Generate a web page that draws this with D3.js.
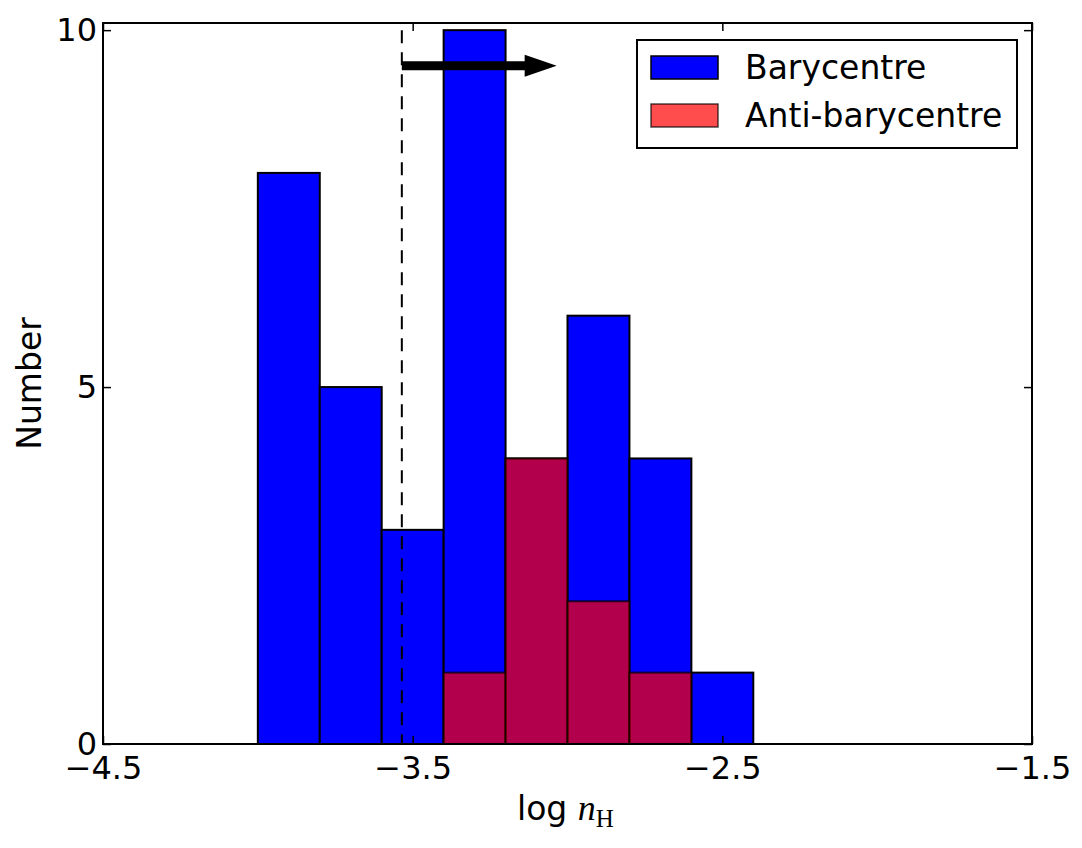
<!DOCTYPE html>
<html>
<head>
<meta charset="utf-8">
<script src="https://cdn.jsdelivr.net/npm/d3@7"></script>
<style>
  html, body { margin: 0; padding: 0; background: #fff; }
  svg { display: block; }
  text { font-family: "DejaVu Sans", sans-serif; fill: #000; }
</style>
</head>
<body>
<svg id="chart" width="1082" height="848"></svg>
<script>
// ---- data ----
const binEdges = [-4.0, -3.8, -3.6, -3.4, -3.2, -3.0, -2.8, -2.6, -2.4];
const baryCounts = [8, 5, 3, 10, 4, 6, 4, 1];
const antiCounts = [0, 0, 0, 1, 4, 2, 1, 0];
const xTicks = [-4.5, -3.5, -2.5, -1.5];
const yTicks = [0, 5, 10];
const thresholdX = -3.535;
const arrowFrom = [-3.535, 9.5];
const arrowTo = [-3.035, 9.5];
const seriesNames = ["Barycentre", "Anti-barycentre"];

// ---- layout ----
const svg = d3.select("#chart");
const L = 103, R = 1032, T = 23, B = 744;
const x = d3.scaleLinear().domain([-4.5, -1.5]).range([L, R]);
const y = d3.scaleLinear().domain([0, 10.1]).range([B, T]);

const blue = "#0000ff";
const red = "rgba(255,0,0,0.7)";
const redEdge = "rgba(0,0,0,0.7)";

const bins = baryCounts.map((c, i) => ({x0: binEdges[i], x1: binEdges[i+1], b: c, a: antiCounts[i]}));

// barycentre bars
svg.append("g").selectAll("rect").data(bins.filter(d => d.b > 0)).join("rect")
  .attr("x", d => x(d.x0)).attr("width", d => x(d.x1) - x(d.x0))
  .attr("y", d => y(d.b)).attr("height", d => y(0) - y(d.b))
  .attr("fill", blue).attr("stroke", "#000").attr("stroke-width", 2);

// anti-barycentre bars
svg.append("g").selectAll("rect").data(bins.filter(d => d.a > 0)).join("rect")
  .attr("x", d => x(d.x0)).attr("width", d => x(d.x1) - x(d.x0))
  .attr("y", d => y(d.a)).attr("height", d => y(0) - y(d.a))
  .attr("fill", red).attr("stroke", redEdge).attr("stroke-width", 2);

// dashed threshold line
svg.append("line")
  .attr("x1", x(thresholdX)).attr("x2", x(thresholdX))
  .attr("y1", y(10)).attr("y2", y(0))
  .attr("stroke", "#000").attr("stroke-width", 2).attr("stroke-dasharray", "13,9");

// arrow
const ax0 = x(arrowFrom[0]), ay = y(arrowFrom[1]), ax1 = x(arrowTo[0]);
const headL = 32, headH = 22, shaftW = 9;
svg.append("path")
  .attr("d", `M${ax0},${ay - shaftW/2} L${ax1 - headL},${ay - shaftW/2} L${ax1 - headL},${ay - headH/2} L${ax1},${ay} L${ax1 - headL},${ay + headH/2} L${ax1 - headL},${ay + shaftW/2} L${ax0},${ay + shaftW/2} Z`)
  .attr("fill", "#000");

// frame
svg.append("rect").attr("x", L).attr("y", T).attr("width", R - L).attr("height", B - T)
  .attr("fill", "none").attr("stroke", "#000").attr("stroke-width", 2);

// axes with inward ticks
const tickLen = 8;
const gx = svg.append("g").attr("transform", `translate(0,${B})`)
  .call(d3.axisBottom(x).tickValues(xTicks).tickSizeInner(-tickLen).tickSizeOuter(0).tickPadding(12)
    .tickFormat(d => d3.format(".1f")(d).replace("-", "\u2212")));
const gxTop = svg.append("g").attr("transform", `translate(0,${T})`)
  .call(d3.axisTop(x).tickValues(xTicks).tickSizeInner(-tickLen).tickSizeOuter(0).tickFormat(""));
const gy = svg.append("g").attr("transform", `translate(${L},0)`)
  .call(d3.axisLeft(y).tickValues(yTicks).tickSizeInner(-tickLen).tickSizeOuter(0).tickPadding(6)
    .tickFormat(d3.format("d")));
const gyR = svg.append("g").attr("transform", `translate(${R},0)`)
  .call(d3.axisRight(y).tickValues(yTicks).tickSizeInner(-tickLen).tickSizeOuter(0).tickFormat(""));
[gx, gxTop, gy, gyR].forEach(g => {
  g.select(".domain").remove();
  g.selectAll(".tick line").attr("stroke", "#000").attr("stroke-width", 1.5);
  g.selectAll(".tick text").attr("font-size", 32).attr("font-family", "DejaVu Sans").attr("fill", "#000");
});

// axis labels
svg.append("text").attr("transform", `translate(41,${(T + B) / 2}) rotate(-90)`)
  .attr("text-anchor", "middle").attr("font-size", 33).text("Number");

const xl = svg.append("text").attr("x", 517).attr("y", 820).attr("font-size", 33);
xl.append("tspan").text("log ");
xl.append("tspan").attr("font-family", "Liberation Serif, serif").attr("font-style", "italic").attr("font-size", 36).text("n");
xl.append("tspan").attr("font-family", "Liberation Serif, serif").attr("font-size", 25).attr("dy", 7).text("H");

// legend
const lg = svg.append("g");
lg.append("rect").attr("x", 637).attr("y", 40).attr("width", 380).attr("height", 108)
  .attr("fill", "#fff").attr("stroke", "#000").attr("stroke-width", 2);
const legendItems = [
  {name: seriesNames[0], fill: blue, stroke: "#000", y: 56},
  {name: seriesNames[1], fill: red, stroke: redEdge, y: 104}
];
legendItems.forEach(it => {
  lg.append("rect").attr("x", 651).attr("y", it.y).attr("width", 67).attr("height", 23)
    .attr("fill", it.fill).attr("stroke", it.stroke).attr("stroke-width", 1.5);
  lg.append("text").attr("x", 745).attr("y", it.y + 23).attr("font-size", 33).text(it.name);
});
</script>
</body>
</html>
